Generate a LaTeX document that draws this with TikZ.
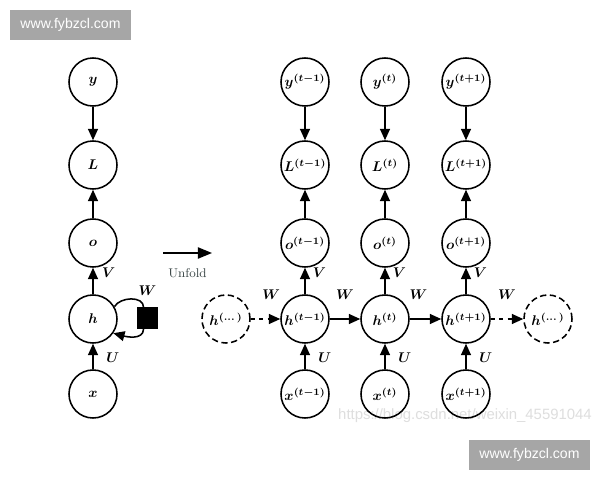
\documentclass[tikz,border=0pt]{standalone}
\usepackage{amsmath}
\usepackage{amssymb}
\usepackage{bm}
\usepackage{fontspec}
\usepackage{tikz}
\usetikzlibrary{arrows.meta, positioning}
\newfontfamily\stampfont{Liberation Sans}
\definecolor{stampgray}{HTML}{A6A6A6}
\definecolor{marklight}{HTML}{DEDEDE}
\definecolor{unfoldtxt}{HTML}{3C4848}
\tikzstyle{myunit} = [circle, draw, line width=1.1pt, minimum size=1.2cm, inner sep=0pt]
\tikzstyle{mydash} = [dash pattern=on 4.5pt off 2.5pt]
\tikzstyle{myghost} = [myunit, mydash]
\tikzstyle{myarrow} = [line width=1.1pt, -{Triangle[length=8pt,width=7pt]}]
\tikzstyle{mylabel} = [inner sep=1pt]
\tikzstyle{mystamp} = [fill=stampgray, text=white, inner sep=0pt,
    minimum width=3.025cm, minimum height=0.75cm, font=\stampfont\fontsize{10}{12}\selectfont]

\begin{document}
\begin{tikzpicture}[x=0.025cm, y=-0.025cm]

	\fill[white] (0,0) rectangle (600,480);
	\useasboundingbox (0,0) rectangle (600,480);

	% filigranes
	\node[text=marklight, font=\stampfont\fontsize{10.6}{12}\selectfont] (csdn) at (465,416)
		{https://blog.csdn.net/weixin\_45591044};
	\node[mystamp] (stampa) at (70.5,25) {www.fybzcl.com};
	\node[mystamp] (stampb) at (529.5,455) {www.fybzcl.com};

	% reseau replie
	\node[myunit] (y) at (93,82) {$\bm{y}$};
	\node[myunit] (L) at (93,165) {$\bm{L}$};
	\node[myunit] (o) at (93,243) {$\bm{o}$};
	\node[myunit] (h) at (93,319) {$\bm{h}$};
	\node[myunit] (x) at (93,394) {$\bm{x}$};
	\node[fill=black, minimum size=0.53cm, inner sep=0pt] (wbox) at (147.5,318) {};
	\node[mylabel, above=7pt of wbox] (wlbl) {$\bm{W}$};

	\draw[myarrow] (y) -- (L);
	\draw[myarrow] (o) -- (L);
	\draw[myarrow] (h) -- node[mylabel, pos=0.8, right=5pt]{$\bm{V}$} (o);
	\draw[myarrow] (x) -- node[mylabel, pos=0.45, right=8pt]{$\bm{U}$} (h);
	\draw[line width=1.1pt] (h.30) to[out=60, in=90] (wbox.110);
	\draw[myarrow] (wbox.250) to[out=-90, in=-15] (h.-35);

	% fleche
	\coordinate (ustart) at (163,253);
	\coordinate (uend) at (212,253);
	\draw[line width=0.9pt, -{Triangle[length=10pt,width=8pt]}] (ustart) --
		node[below=7pt, text=unfoldtxt, font=\small]{Unfold} (uend);

	% reseau deplie
	\foreach \n/\cx/\stp in {a/305/t-1, b/385/t, c/466/t+1}{
		\node[myunit] (y\n) at (\cx,82) {$\bm{y^{(\stp)}}$};
		\node[myunit] (L\n) at (\cx,165) {$\bm{L^{(\stp)}}$};
		\node[myunit] (o\n) at (\cx,243) {$\bm{o^{(\stp)}}$};
		\node[myunit] (h\n) at (\cx,319) {$\bm{h^{(\stp)}}$};
		\node[myunit] (x\n) at (\cx,394) {$\bm{x^{(\stp)}}$};
		\draw[myarrow] (y\n) -- (L\n);
		\draw[myarrow] (o\n) -- (L\n);
		\draw[myarrow] (h\n) -- node[mylabel, pos=0.8, right=4pt]{$\bm{V}$} (o\n);
		\draw[myarrow] (x\n) -- node[mylabel, pos=0.45, right=8pt]{$\bm{U}$} (h\n);
	}
	\node[myghost] (hl) at (226,319) {$\bm{h^{(\dots)}}$};
	\node[myghost] (hr) at (548,319) {$\bm{h^{(\dots)}}$};

	\draw[myarrow, dash pattern=on 3pt off 3pt] (hl) -- node[mylabel, above=12pt, xshift=4pt]{$\bm{W}$} (ha);
	\draw[myarrow] (ha) -- node[mylabel, above=12pt]{$\bm{W}$} (hb);
	\draw[myarrow] (hb) -- node[mylabel, above=12pt, xshift=-5pt]{$\bm{W}$} (hc);
	\draw[myarrow, dash pattern=on 3pt off 3pt] (hc) -- node[mylabel, above=12pt]{$\bm{W}$} (hr);

\end{tikzpicture}
\end{document}
